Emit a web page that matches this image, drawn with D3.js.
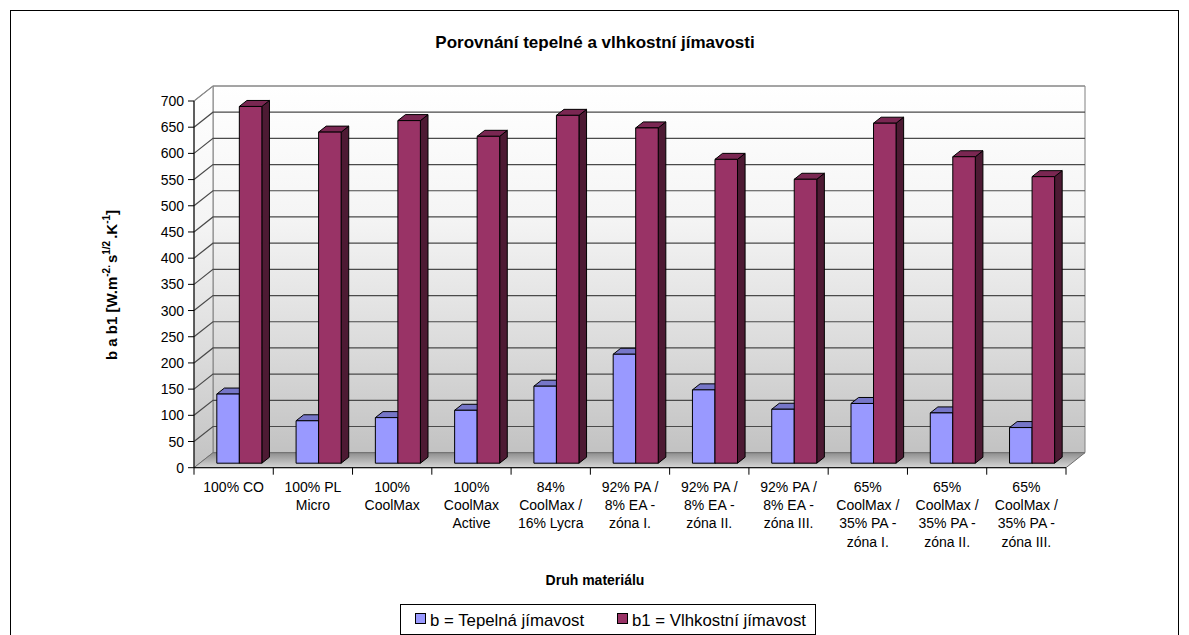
<!DOCTYPE html>
<html>
<head>
<meta charset="utf-8">
<script src="https://cdn.jsdelivr.net/npm/d3@7"></script>
<style>
  body { margin: 0; background: #fff; }
  svg { display: block; }
  text { font-family: "Liberation Sans", Arial, Helvetica, sans-serif; fill: #000; }
</style>
</head>
<body>
<svg id="chart" width="1189" height="635"></svg>
<script>
// Materials (line breaks mark how each axis label wraps)
const categories = [
  "100% CO",
  "100% PL\nMicro",
  "100%\nCoolMax",
  "100%\nCoolMax\nActive",
  "84%\nCoolMax /\n16% Lycra",
  "92% PA /\n8% EA -\nzóna I.",
  "92% PA /\n8% EA -\nzóna II.",
  "92% PA /\n8% EA -\nzóna III.",
  "65%\nCoolMax /\n35% PA -\nzóna I.",
  "65%\nCoolMax /\n35% PA -\nzóna II.",
  "65%\nCoolMax /\n35% PA -\nzóna III."
];
const seriesKeys = ["b", "b1"];
const seriesNames = ["b = Tepelná jímavost", "b1 = Vlhkostní jímavost"];
// b  – thermal absorptivity
const thermal = [132, 81, 87, 101, 147, 208, 140, 103, 114, 96, 68];
// b1 – moisture absorptivity
const moisture = [681, 632, 654, 624, 664, 640, 580, 542, 649, 585, 547];
const yTicks = [0, 50, 100, 150, 200, 250, 300, 350, 400, 450, 500, 550, 600, 650, 700];

const titleText = "Porovnání tepelné a vlhkostní jímavosti";
const xTitle = "Druh materiálu";

const svg = d3.select("#chart");

// outer chart frame
svg.append("rect").attr("x", 10.5).attr("y", 10.5).attr("width", 1168).attr("height", 660)
  .attr("fill", "#fff").attr("stroke", "#000").attr("stroke-width", 1);

// front plane of the 3D plot box and its depth offset
const plotL = 194, plotR = 1066, plotB = 467.7, plotT = 101;
const DX = 19, DY = -15;
const P = (px, py, z) => [px + DX * z, py + DY * z];

const x = d3.scaleBand().domain(categories).range([plotL, plotR]).padding(0);
const xs = d3.scaleBand().domain(seriesKeys).range([0, x.bandwidth()]).paddingInner(0).paddingOuter(0.76);
const y = d3.scaleLinear().domain([0, 700]).range([plotB, plotT]);

const defs = svg.append("defs");
const wallGrad = defs.append("linearGradient").attr("id", "wall").attr("x1", 0).attr("y1", 0).attr("x2", 0).attr("y2", 1);
wallGrad.append("stop").attr("offset", "0").attr("stop-color", "#ffffff");
wallGrad.append("stop").attr("offset", "0.35").attr("stop-color", "#f5f5f5");
wallGrad.append("stop").attr("offset", "0.7").attr("stop-color", "#dcdcdc");
wallGrad.append("stop").attr("offset", "1").attr("stop-color", "#c2c2c2");
const floorGrad = defs.append("linearGradient").attr("id", "floor").attr("x1", 0).attr("y1", 0).attr("x2", 0).attr("y2", 1);
floorGrad.append("stop").attr("offset", "0").attr("stop-color", "#8e8e8e");
floorGrad.append("stop").attr("offset", "1").attr("stop-color", "#d6d6d6");

const poly = pts => pts.map(p => p.join(",")).join(" ");
const v0 = 0, vTop = 700;

// back wall
svg.append("polygon")
  .attr("points", poly([P(plotL, y(vTop), 1), P(plotR, y(vTop), 1), P(plotR, y(v0), 1), P(plotL, y(v0), 1)]))
  .attr("fill", "url(#wall)").attr("stroke", "#808080").attr("stroke-width", 1);
// left side wall
svg.append("polygon")
  .attr("points", poly([P(plotL, y(v0), 0), P(plotL, y(v0), 1), P(plotL, y(vTop), 1), P(plotL, y(vTop), 0)]))
  .attr("fill", "url(#wall)").attr("stroke", "#808080").attr("stroke-width", 1);
// floor
svg.append("polygon")
  .attr("points", poly([P(plotL, y(v0), 0), P(plotR, y(v0), 0), P(plotR, y(v0), 1), P(plotL, y(v0), 1)]))
  .attr("fill", "url(#floor)").attr("stroke", "#6e6e6e").attr("stroke-width", 1);

// gridlines on walls
const grid = svg.append("g");
yTicks.filter(t => t > 0).forEach(t => {
  const c = t === 700 ? "#8a8a8a" : "#4a4a4a";
  const a = P(plotL, y(t), 0), b = P(plotL, y(t), 1), c2 = P(plotR, y(t), 1);
  grid.append("polyline").attr("points", poly([a, b, c2]))
    .attr("fill", "none").attr("stroke", c).attr("stroke-width", 1.2);
});

// y axis
const yAxis = svg.append("g");
yAxis.append("line").attr("x1", plotL).attr("x2", plotL).attr("y1", y(0)).attr("y2", y(700))
  .attr("stroke", "#000").attr("stroke-width", 1);
yTicks.forEach(t => {
  yAxis.append("line").attr("x1", plotL - 6).attr("x2", plotL).attr("y1", y(t)).attr("y2", y(t))
    .attr("stroke", "#000").attr("stroke-width", 1);
  yAxis.append("text").attr("x", plotL - 10).attr("y", y(t)).attr("dy", "0.36em")
    .attr("text-anchor", "end").attr("font-size", 14).text(t);
});

// x axis
const xAxis = svg.append("g");
xAxis.append("line").attr("x1", plotL).attr("x2", plotR).attr("y1", plotB).attr("y2", plotB)
  .attr("stroke", "#000").attr("stroke-width", 1);
const edges = categories.map(c => x(c)).concat([plotR]);
edges.forEach(e => {
  xAxis.append("line").attr("x1", e).attr("x2", e).attr("y1", plotB).attr("y2", plotB + 7)
    .attr("stroke", "#000").attr("stroke-width", 1);
});
categories.forEach(c => {
  const lines = c.split("\n");
  const t = xAxis.append("text").attr("text-anchor", "middle").attr("font-size", 14);
  lines.forEach((ln, i) => {
    t.append("tspan").attr("x", x(c) + x.bandwidth() / 2).attr("y", 491.5 + i * 18.4).text(ln);
  });
});

// 3D bars
const colors = {
  b:  { front: "#9999ff", top: "#7676c8", side: "#4d4d80" },
  b1: { front: "#993366", top: "#7a2752", side: "#4d1a33" }
};
const z0 = 0.3, z1 = 0.7;
const bars = svg.append("g");
categories.forEach((c, i) => {
  seriesKeys.forEach(k => {
    const v = (k === "b" ? thermal : moisture)[i];
    const xl = x(c) + xs(k), xr = xl + xs.bandwidth();
    const col = colors[k];
    const g = bars.append("g").attr("stroke", "#000").attr("stroke-width", 1).attr("stroke-linejoin", "round");
    g.append("polygon").attr("fill", col.side)
      .attr("points", poly([P(xr, y(v), z0), P(xr, y(v), z1), P(xr, y(0), z1), P(xr, y(0), z0)]));
    g.append("polygon").attr("fill", col.top)
      .attr("points", poly([P(xl, y(v), z0), P(xr, y(v), z0), P(xr, y(v), z1), P(xl, y(v), z1)]));
    g.append("polygon").attr("fill", col.front)
      .attr("points", poly([P(xl, y(v), z0), P(xr, y(v), z0), P(xr, y(0), z0), P(xl, y(0), z0)]));
  });
});

// titles
svg.append("text").attr("x", 595).attr("y", 48).attr("text-anchor", "middle")
  .attr("font-size", 17).attr("font-weight", "bold").text(titleText);
svg.append("text").attr("x", 595).attr("y", 585).attr("text-anchor", "middle")
  .attr("font-size", 14).attr("font-weight", "bold").text(xTitle);

const yt = svg.append("text").attr("transform", "translate(117,285) rotate(-90)")
  .attr("text-anchor", "middle").attr("font-size", 15).attr("font-weight", "bold");
yt.append("tspan").text("b a b1 [W.m");
yt.append("tspan").attr("dy", -7).attr("font-size", 10).text("-2.");
yt.append("tspan").attr("dy", 7).attr("dx", 2).text("s");
yt.append("tspan").attr("dy", -7).attr("font-size", 10).text("1/2");
yt.append("tspan").attr("dy", 7).attr("dx", 2).text(".K");
yt.append("tspan").attr("dy", -7).attr("font-size", 10).text("-1");
yt.append("tspan").attr("dy", 7).text("]");

// legend
const lg = svg.append("g");
lg.append("rect").attr("x", 400.5).attr("y", 604.5).attr("width", 415).attr("height", 30)
  .attr("fill", "#fff").attr("stroke", "#000").attr("stroke-width", 1);
const legendX = [415, 617];
seriesKeys.forEach((k, i) => {
  lg.append("rect").attr("x", legendX[i] + 0.5).attr("y", 613.5).attr("width", 10).attr("height", 10)
    .attr("fill", colors[k].front).attr("stroke", "#000").attr("stroke-width", 1);
  lg.append("text").attr("x", legendX[i] + 15).attr("y", 626).attr("font-size", 16.8).text(seriesNames[i]);
});
</script>
</body>
</html>
